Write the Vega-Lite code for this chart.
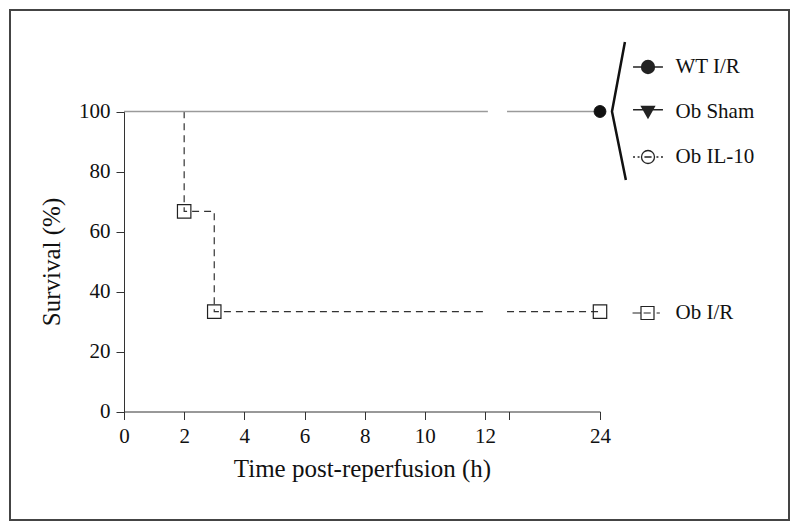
{
  "$schema": "https://vega.github.io/schema/vega-lite/v6.json",
  "width": 779,
  "height": 510,
  "padding": 10,
  "autosize": {"type": "none"},
  "background": "white",
  "config": {
    "view": {"stroke": "#444", "strokeWidth": 2},
    "font": "Liberation Serif"
  },
  "datasets": {
    "curves": [
      {"series": "Ob I/R", "part": "a", "time": 0, "survival": 100},
      {"series": "Ob I/R", "part": "a", "time": 2, "survival": 66.7},
      {"series": "Ob I/R", "part": "a", "time": 3, "survival": 33.3},
      {"series": "Ob I/R", "part": "a", "time": 12.3, "survival": 33.3},
      {"series": "Ob I/R", "part": "b", "time": 14.3, "survival": 33.3},
      {"series": "Ob I/R", "part": "b", "time": 24, "survival": 33.3},
      {"series": "WT I/R", "part": "a", "time": 0, "survival": 100},
      {"series": "WT I/R", "part": "a", "time": 12.3, "survival": 100},
      {"series": "WT I/R", "part": "b", "time": 14.3, "survival": 100},
      {"series": "WT I/R", "part": "b", "time": 24, "survival": 100}
    ],
    "marks": [
      {"series": "Ob I/R", "time": 2, "survival": 66.7},
      {"series": "Ob I/R", "time": 3, "survival": 33.3},
      {"series": "Ob I/R", "time": 24, "survival": 33.3},
      {"series": "WT I/R", "time": 24, "survival": 100}
    ],
    "bracket": [
      {"k": 1, "time": 26.6, "survival": 123.2},
      {"k": 2, "time": 25.25, "survival": 100},
      {"k": 3, "time": 26.7, "survival": 77.2}
    ]
  },
  "layer": [
    {
      "data": {"name": "curves"},
      "transform": [{"filter": "datum.series === 'Ob I/R'"}],
      "mark": {"type": "line", "interpolate": "step-after", "strokeWidth": 1.2, "stroke": "#333", "strokeDash": [7, 5]},
      "encoding": {
        "x": {
          "field": "time",
          "type": "quantitative",
          "scale": {"type": "linear", "domain": [0, 12, 24], "range": [114, 475, 590], "nice": false, "zero": false},
          "axis": {
            "orient": "bottom",
            "offset": -108.5,
            "values": [0, 2, 4, 6, 8, 10, 12, 14.5, 24],
            "labelExpr": "datum.value == 14.5 ? '' : datum.label",
            "title": "Time post-reperfusion (h)",
            "grid": false,
            "tickSize": 8,
            "labelPadding": 6,
            "titlePadding": 10,
            "labelFontSize": 21,
            "titleFontSize": 25,
            "titleFontWeight": "normal",
            "labelFont": "Liberation Serif",
            "titleFont": "Liberation Serif",
            "domainColor": "#333",
            "tickColor": "#333",
            "labelColor": "#111",
            "titleColor": "#111",
            "labelFlush": false,
            "labelOverlap": false
          }
        },
        "y": {
          "field": "survival",
          "type": "quantitative",
          "scale": {"domain": [0, 100], "range": [401.5, 101.5], "nice": false, "zero": false},
          "axis": {
            "orient": "left",
            "offset": -114,
            "values": [0, 20, 40, 60, 80, 100],
            "title": "Survival (%)",
            "grid": false,
            "tickSize": 8,
            "labelPadding": 6,
            "titlePadding": 14,
            "labelFontSize": 21,
            "titleFontSize": 25,
            "titleFontWeight": "normal",
            "labelFont": "Liberation Serif",
            "titleFont": "Liberation Serif",
            "domainColor": "#333",
            "tickColor": "#333",
            "labelColor": "#111",
            "titleColor": "#111"
          }
        },
        "detail": {"field": "part"}
      }
    },
    {
      "data": {"name": "curves"},
      "transform": [{"filter": "datum.series === 'WT I/R'"}],
      "mark": {"type": "line", "interpolate": "step-after", "strokeWidth": 1.4, "stroke": "#9a9a9a"},
      "encoding": {
        "x": {"field": "time", "type": "quantitative"},
        "y": {"field": "survival", "type": "quantitative"},
        "detail": {"field": "part"}
      }
    },
    {
      "data": {"name": "bracket"},
      "mark": {"type": "line", "stroke": "#111", "strokeWidth": 2.5},
      "encoding": {
        "x": {"field": "time", "type": "quantitative"},
        "y": {"field": "survival", "type": "quantitative"},
        "order": {"field": "k", "type": "quantitative"}
      }
    },
    {
      "data": {"name": "marks"},
      "transform": [{"filter": "false"}],
      "mark": {"type": "point", "opacity": 1, "stroke": "#222", "strokeWidth": 1.3},
      "encoding": {
        "x": {"field": "time", "type": "quantitative"},
        "y": {"field": "survival", "type": "quantitative"},
        "shape": {
          "field": "series",
          "type": "nominal",
          "scale": {
            "domain": ["WT I/R", "Ob Sham", "Ob IL-10"],
            "range": [
              "M-2.3,0H2.3M1,0A1,1,0,1,1,-1,0A1,1,0,1,1,1,0ZM0.8,0A0.8,0.8,0,1,1,-0.8,0A0.8,0.8,0,1,1,0.8,0ZM0.6,0A0.6,0.6,0,1,1,-0.6,0A0.6,0.6,0,1,1,0.6,0ZM0.4,0A0.4,0.4,0,1,1,-0.4,0A0.4,0.4,0,1,1,0.4,0ZM0.2,0A0.2,0.2,0,1,1,-0.2,0A0.2,0.2,0,1,1,0.2,0Z",
              "M-2.3,-0.35H2.3M-1,-0.85L1,-0.85L0,0.9ZM-0.75,-0.704L0.75,-0.704L0,0.608ZM-0.5,-0.558L0.5,-0.558L0,0.317ZM-0.25,-0.412L0.25,-0.412L0,0.025Z",
              "M-2.3,0H-2M-1.6,0H-1.3M1.3,0H1.6M2,0H2.3M-0.55,0H0.55M1,0A1,1,0,1,1,-1,0A1,1,0,1,1,1,0ZM1,0A1,1,0,1,0,-1,0A1,1,0,1,0,1,0Z"
            ]
          },
          "legend": {
            "orient": "none",
            "legendX": 627.5,
            "legendY": 46.5,
            "title": null,
            "padding": 0,
            "symbolSize": 169,
            "symbolStrokeColor": "#222",
            "symbolStrokeWidth": 1.3,
            "symbolOpacity": 1,
            "labelFontSize": 21,
            "labelFont": "Liberation Serif",
            "labelColor": "#111",
            "labelOffset": 17,
            "rowPadding": 23
          }
        }
      }
    },
    {
      "data": {"name": "marks"},
      "transform": [{"filter": "datum.series === 'WT I/R'"}],
      "mark": {"type": "point", "shape": "circle", "filled": true, "fill": "#111", "stroke": "#111", "strokeWidth": 1, "size": 140, "opacity": 1},
      "encoding": {
        "x": {"field": "time", "type": "quantitative"},
        "y": {"field": "survival", "type": "quantitative"}
      }
    },
    {
      "data": {"name": "marks"},
      "transform": [{"filter": "datum.series === 'Ob I/R'"}],
      "mark": {"type": "point", "shape": "square", "filled": false, "fill": "transparent", "strokeWidth": 1.2, "size": 180, "opacity": 1},
      "encoding": {
        "x": {"field": "time", "type": "quantitative"},
        "y": {"field": "survival", "type": "quantitative"},
        "stroke": {
          "field": "series",
          "type": "nominal",
          "scale": {"domain": ["Ob I/R"], "range": ["#222"]},
          "legend": {
            "orient": "none",
            "legendX": 627,
            "legendY": 292.5,
            "title": null,
            "padding": 0,
            "symbolType": "M-2.3,0H-1M-1,-1H1V1H-1ZM-0.6,0H0.5M1.4,0H1.9",
            "symbolSize": 169,
            "symbolFillColor": "transparent",
            "symbolStrokeWidth": 1.2,
            "symbolOpacity": 1,
            "labelFontSize": 21,
            "labelFont": "Liberation Serif",
            "labelColor": "#111",
            "labelOffset": 17.5
          }
        }
      }
    }
  ]
}
